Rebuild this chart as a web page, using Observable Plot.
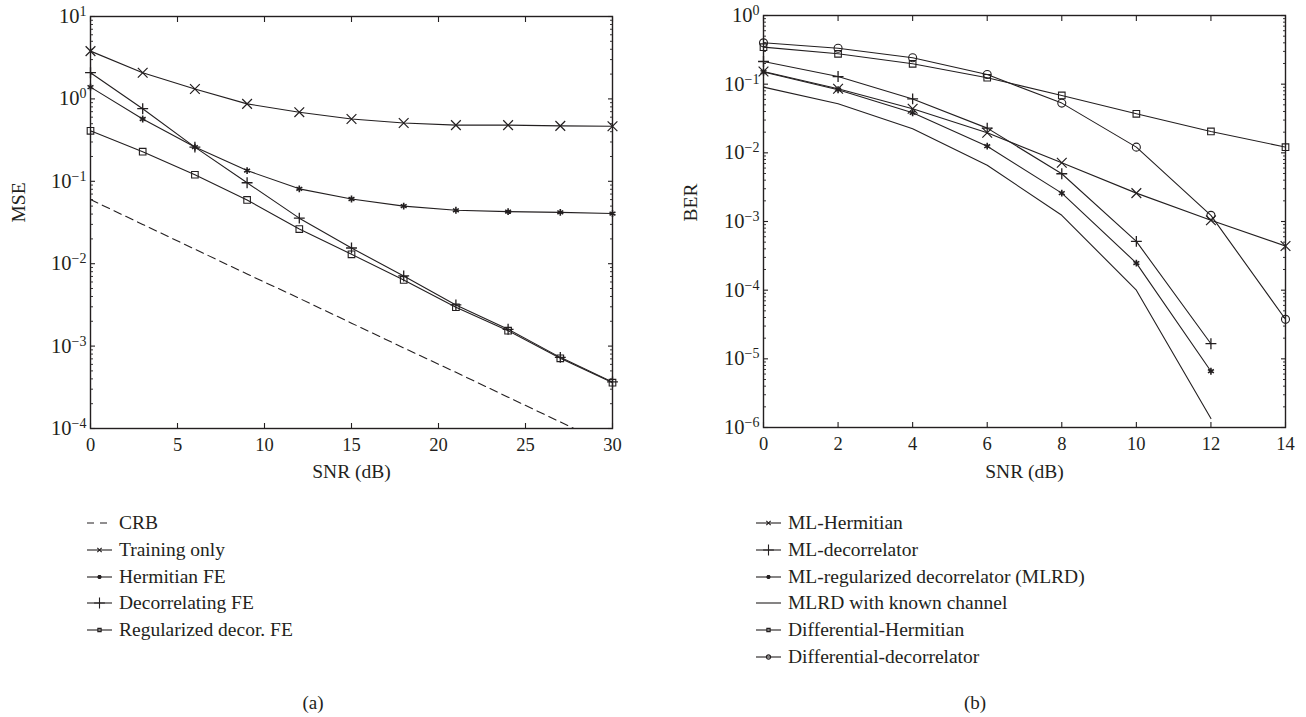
<!DOCTYPE html>
<html><head><meta charset="utf-8">
<script src="https://cdn.jsdelivr.net/npm/d3@7"></script>
<script src="https://cdn.jsdelivr.net/npm/@observablehq/plot@0.6"></script>
<style>
html,body{margin:0;padding:0;background:#fff;}
#fig{position:relative;width:1306px;height:717px;font-family:"Liberation Serif","Times New Roman",serif;color:#231f20;overflow:hidden;}
.panel{position:absolute;top:0;}
.row{position:absolute;height:26px;white-space:nowrap;display:flex;align-items:center;font-size:19.5px;}
.row svg{display:block;}
.cap{position:absolute;font-size:19px;transform:translate(-50%,-50%);}
</style></head><body><div id="fig"></div>
<script>
const ink = "#231f20";

// ---------- Panel (a): MSE vs SNR ----------
const snrA = [0, 3, 6, 9, 12, 15, 18, 21, 24, 27, 30];
const namesA = ["CRB", "Training only", "Hermitian FE", "Decorrelating FE", "Regularized decor. FE"];
const crb          = [0.06, 0.030, 0.015, 0.0075, 0.0038, 0.0019, 0.00095, 0.00048, 0.00024, 0.00012, 0.00006];
const trainingOnly = [3.8, 2.08, 1.32, 0.87, 0.69, 0.57, 0.51, 0.48, 0.48, 0.47, 0.466];
const hermitianFE  = [1.39, 0.57, 0.26, 0.135, 0.081, 0.061, 0.050, 0.0445, 0.0429, 0.042, 0.0406];
const decorrFE     = [2.08, 0.76, 0.26, 0.096, 0.0357, 0.0155, 0.0071, 0.00316, 0.0016, 0.00073, 0.000367];
const regDecorFE   = [0.41, 0.229, 0.12, 0.0594, 0.0263, 0.013, 0.00636, 0.00296, 0.00154, 0.00071, 0.00036];
const xTicksA = [0, 5, 10, 15, 20, 25, 30];
const yTicksA = [1e-4, 1e-3, 1e-2, 1e-1, 1, 10];

// ---------- Panel (b): BER vs SNR ----------
const snrB = [0, 2, 4, 6, 8, 10, 12, 14];
const namesB = ["ML-Hermitian", "ML-decorrelator", "ML-regularized decorrelator (MLRD)", "MLRD with known channel", "Differential-Hermitian", "Differential-decorrelator"];
const mlHermitian = [0.153, 0.0857, 0.0438, 0.0196, 0.00718, 0.00259, 0.00104, 0.000439];
const mlDecorr    = [0.214, 0.129, 0.061, 0.0229, 0.00496, 0.000513, 0.0000166];
const mlrd        = [0.15, 0.083, 0.0383, 0.0125, 0.00259, 0.000248, 0.0000066];
const mlrdKnown   = [0.0905, 0.0518, 0.0224, 0.0066, 0.00123, 0.0001, 0.00000135];
const diffHerm    = [0.346, 0.277, 0.198, 0.124, 0.0685, 0.037, 0.0205, 0.0121];
const diffDecorr  = [0.40, 0.334, 0.242, 0.138, 0.053, 0.0121, 0.00123, 0.0000376];
const xTicksB = [0, 2, 4, 6, 8, 10, 12, 14];
const yTicksB = [1e-6, 1e-5, 1e-4, 1e-3, 1e-2, 1e-1, 1];

// ---------- styles (separate from data) ----------
const styles = {
  "CRB": {dash: "8,5", legendDash: "7,6"},
  "Training only": {symbol: "times", r: 4.5, sw: 1.2},
  "Hermitian FE": {symbol: "asterisk", r: 3.2, sw: 1.6},
  "Decorrelating FE": {symbol: "plus", r: 3.6, sw: 1.3},
  "Regularized decor. FE": {symbol: "square2", r: 4.2, sw: 1.1},
  "ML-Hermitian": {symbol: "times", r: 4.5, sw: 1.2},
  "ML-decorrelator": {symbol: "plus", r: 3.6, sw: 1.3},
  "ML-regularized decorrelator (MLRD)": {symbol: "asterisk", r: 3.2, sw: 1.6},
  "MLRD with known channel": {},
  "Differential-Hermitian": {symbol: "square2", r: 4.2, sw: 1.1},
  "Differential-decorrelator": {symbol: "circle", r: 4, sw: 1.1}
};
const d3Sym = {times: d3.symbolTimes, plus: d3.symbolPlus, asterisk: d3.symbolAsterisk, square2: d3.symbolSquare2, circle: d3.symbolCircle};

function tidy(xs, names, arrays) {
  const rows = [];
  names.forEach((n, i) => arrays[i].forEach((v, j) => rows.push({series: n, snr: xs[j], value: v})));
  return rows;
}
const rowsA = tidy(snrA, namesA, [crb, trainingOnly, hermitianFE, decorrFE, regDecorFE]);
const rowsB = tidy(snrB, namesB, [mlHermitian, mlDecorr, mlrd, mlrdKnown, diffHerm, diffDecorr]);

function minorTicks(major) {
  const out = [];
  for (let i = 0; i < major.length - 1; i++) for (let m = 2; m <= 9; m++) out.push(major[i] * m);
  return out;
}
const expFmt = d => "10^" + String(Math.round(Math.log10(d))).replace("-", "\u2212");
const blank = () => "";

function makePanel(cfg) {
  const {rows, names, xDomain, xTicks, yDomain, yTicks, width, height, ml, mr, mt, mb, yLabel, xLabel} = cfg;
  const yMinor = minorTicks(yTicks);
  const marks = [
    Plot.axisX(xTicks, {anchor: "bottom", tickSize: 0, tickPadding: 9, label: null, fill: ink, fontSize: 18.5}),
    Plot.axisX(xTicks, {anchor: "bottom", tickSize: -5, tickFormat: blank, label: null, stroke: ink, strokeWidth: 1.1}),
    Plot.axisX(xTicks, {anchor: "top", tickSize: -5, tickFormat: blank, label: null, stroke: ink, strokeWidth: 1.1}),
    Plot.axisY(yTicks, {anchor: "left", tickSize: 0, tickPadding: 4, tickFormat: expFmt, label: null, fill: ink, fontSize: 20.5}),
    Plot.axisY(yTicks, {anchor: "left", tickSize: -5, tickFormat: blank, label: null, stroke: ink, strokeWidth: 1.1}),
    Plot.axisY(yMinor, {anchor: "left", tickSize: -3, tickFormat: blank, label: null, stroke: ink, strokeWidth: 0.9}),
    Plot.axisY(yTicks, {anchor: "right", tickSize: -5, tickFormat: blank, label: null, stroke: ink, strokeWidth: 1.1}),
    Plot.axisY(yMinor, {anchor: "right", tickSize: -3, tickFormat: blank, label: null, stroke: ink, strokeWidth: 0.9}),
  ];
  names.forEach(n => {
    const st = styles[n];
    const data = rows.filter(r => r.series === n);
    marks.push(Plot.line(data, {x: "snr", y: "value", stroke: ink, strokeWidth: 1.1, strokeDasharray: st.dash, clip: true}));
    if (st.symbol) marks.push(Plot.dot(data, {x: "snr", y: "value", symbol: st.symbol, r: st.r, stroke: ink, strokeWidth: st.sw, fill: "none"}));
  });
  marks.push(Plot.frame({stroke: ink, strokeWidth: 1.4}));
  marks.push(Plot.text([yLabel], {text: d => d, frameAnchor: "left", rotate: -90, dx: cfg.yLabelDx, fontSize: 19.5, fill: ink}));
  marks.push(Plot.text([xLabel], {text: d => d, frameAnchor: "bottom", dy: cfg.xLabelDy, fontSize: 19.5, fill: ink}));
  const svg = Plot.plot({
    width, height, marginLeft: ml, marginRight: mr, marginTop: mt, marginBottom: mb,
    x: {domain: xDomain},
    y: {type: "log", domain: yDomain},
    style: {fontFamily: '"Liberation Serif","Times New Roman",serif', fontSize: "18.5px", color: ink, background: "transparent", overflow: "visible"},
    marks
  });
  d3.select(svg).selectAll('g[aria-label="y-axis tick label"] text').each(function () {
    const s = this.textContent;
    if (!s.includes("^")) return;
    const [b, e] = s.split("^");
    const t = d3.select(this);
    t.text(null);
    t.append("tspan").text(b);
    t.append("tspan").attr("dy", "-0.5em").attr("font-size", "14px").text(e);
  });
  return svg;
}

const fig = document.getElementById("fig");

const svgA = makePanel({rows: rowsA, names: namesA, xDomain: [0, 30], xTicks: xTicksA, yDomain: [1e-4, 10], yTicks: yTicksA,
  width: 640, height: 500, ml: 90, mr: 28, mt: 16, mb: 72, yLabel: "MSE", xLabel: "SNR (dB)", yLabelDx: -72, xLabelDy: 49});
svgA.classList.add("panel"); svgA.style.left = "0px"; svgA.style.position = "absolute";
fig.appendChild(svgA);

const svgB = makePanel({rows: rowsB, names: namesB, xDomain: [0, 14], xTicks: xTicksB, yDomain: [1e-6, 1], yTicks: yTicksB,
  width: 666, height: 500, ml: 123, mr: 21, mt: 15, mb: 73, yLabel: "BER", xLabel: "SNR (dB)", yLabelDx: -73, xLabelDy: 50});
svgB.classList.add("panel"); svgB.style.left = "640px"; svgB.style.position = "absolute";
fig.appendChild(svgB);

function legend(names, left, top, step) {
  names.forEach((n, i) => {
    const st = styles[n];
    const row = d3.select(fig).append("div").attr("class", "row")
      .style("left", left + "px").style("top", (top + i * step - 13) + "px");
    const s = row.append("svg").attr("width", 26).attr("height", 12);
    s.append("line").attr("x1", 0).attr("x2", 25).attr("y1", 6).attr("y2", 6)
      .attr("stroke", ink).attr("stroke-width", 1.1).attr("stroke-dasharray", st.legendDash || null);
    if (st.symbol) {
      const size = st.symbol === "asterisk" ? 12 : st.symbol === "plus" ? 40 : 14;
      s.append("path").attr("transform", "translate(12.5,6)").attr("d", d3.symbol(d3Sym[st.symbol], size)())
        .attr("fill", "none").attr("stroke", ink).attr("stroke-width", st.symbol === "asterisk" ? 1.8 : 1.1);
    }
    row.append("span").style("margin-left", "6px").text(n);
  });
}
legend(namesA, 87, 523, 26.75);
legend(namesB, 756, 523, 26.75);

d3.select(fig).append("div").attr("class", "cap").style("left", "313px").style("top", "703px").text("(a)");
d3.select(fig).append("div").attr("class", "cap").style("left", "975px").style("top", "703px").text("(b)");
</script></body></html>
